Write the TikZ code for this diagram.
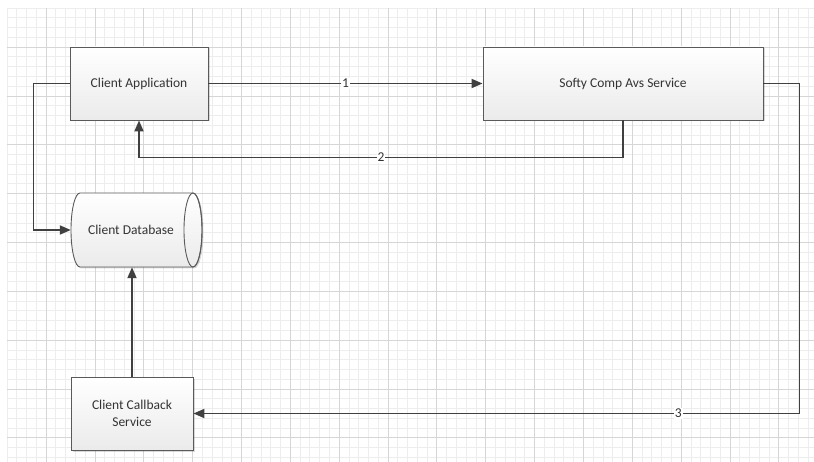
\documentclass[tikz,border=0pt]{standalone}
\usepackage{fontspec}
\setmainfont{Carlito}
\usetikzlibrary{arrows.meta,shadows}
\definecolor{linec}{HTML}{404040}
\definecolor{boxborder}{HTML}{5A5A5A}
\definecolor{gridminor}{HTML}{EDEDED}
\definecolor{gridmajor}{HTML}{D6D6D6}
\definecolor{txt}{HTML}{333333}
\begin{document}
\begin{tikzpicture}[x=1pt,y=-1pt,
  boxfill/.style={draw=boxborder, line width=0.9pt, top color=white, bottom color=gray!16,
    drop shadow={shadow xshift=1.5pt,shadow yshift=-1.5pt,fill=black,opacity=0.15}},
  box/.style={boxfill, font=\fontsize{13.5}{16.5}\selectfont, text=txt, align=center, inner sep=0pt},
  conn/.style={draw=linec, line width=1.8pt, -{Triangle[length=11pt,width=9pt]}},
  lbl/.style={fill=white, inner sep=1pt, font=\fontsize{13.5}{16}\selectfont, text=txt}
]
\useasboundingbox (0,0) rectangle (814,462);
\fill[white] (0,0) rectangle (814,462);
% grid
\foreach \i in {0,...,82} {\pgfmathsetmacro\xx{7+\i*9.77}\draw[gridminor, line width=0.8pt] (\xx,8) -- (\xx,462);}
\foreach \i in {0,...,46} {\pgfmathsetmacro\yy{8+\i*9.77}\draw[gridminor, line width=0.8pt] (7,\yy) -- (814,\yy);}
\foreach \k in {0,...,15} {\pgfmathsetmacro\xx{7+(4+5*\k)*9.77}\draw[gridmajor, line width=0.8pt] (\xx,8) -- (\xx,462);}
\foreach \k in {0,...,8} {\pgfmathsetmacro\yy{8+(4+5*\k)*9.77}\draw[gridmajor, line width=0.8pt] (7,\yy) -- (814,\yy);}

% nodes
\node[box, minimum width=138pt, minimum height=73pt] (app) at (139,83.5) {Client Application};
\node[box, minimum width=280pt, minimum height=73pt] (avs) at (623,83.5) {Softy Comp Avs Service};
\node[box, minimum width=122pt, minimum height=73pt] (cb) at (132,413.5) {Client Callback\\Service};
% database (horizontal cylinder)
\node[minimum width=131pt, minimum height=74pt, inner sep=0pt] (db) at (136.5,230) {};
\path[boxfill] (80,193) -- (193,193) arc[start angle=90, end angle=-90, x radius=9pt, y radius=37pt]
  -- (80,267) arc[start angle=-90, end angle=-270, x radius=9pt, y radius=37pt] -- cycle;
\draw[boxborder, line width=0.9pt] (193,230) ellipse[x radius=9pt, y radius=37pt];
\node[font=\fontsize{13.5}{16.5}\selectfont, text=txt] (dbtext) at (131,230) {Client Database};

% connectors
\draw[conn] (app.east) -- node[lbl]{1} (avs.west);
\draw[conn] (avs.south) -- ++(0,37) -| node[lbl, pos=0.25]{2} (app.south);
\draw[conn] (avs.east) -- ++(36,0) |- node[lbl, pos=0.6]{3} (cb.east);
\draw[conn] (app.west) -- ++(-36,0) |- (db.west);
\draw[conn] (cb.north) -- (cb.north |- db.south);
\end{tikzpicture}
\end{document}
